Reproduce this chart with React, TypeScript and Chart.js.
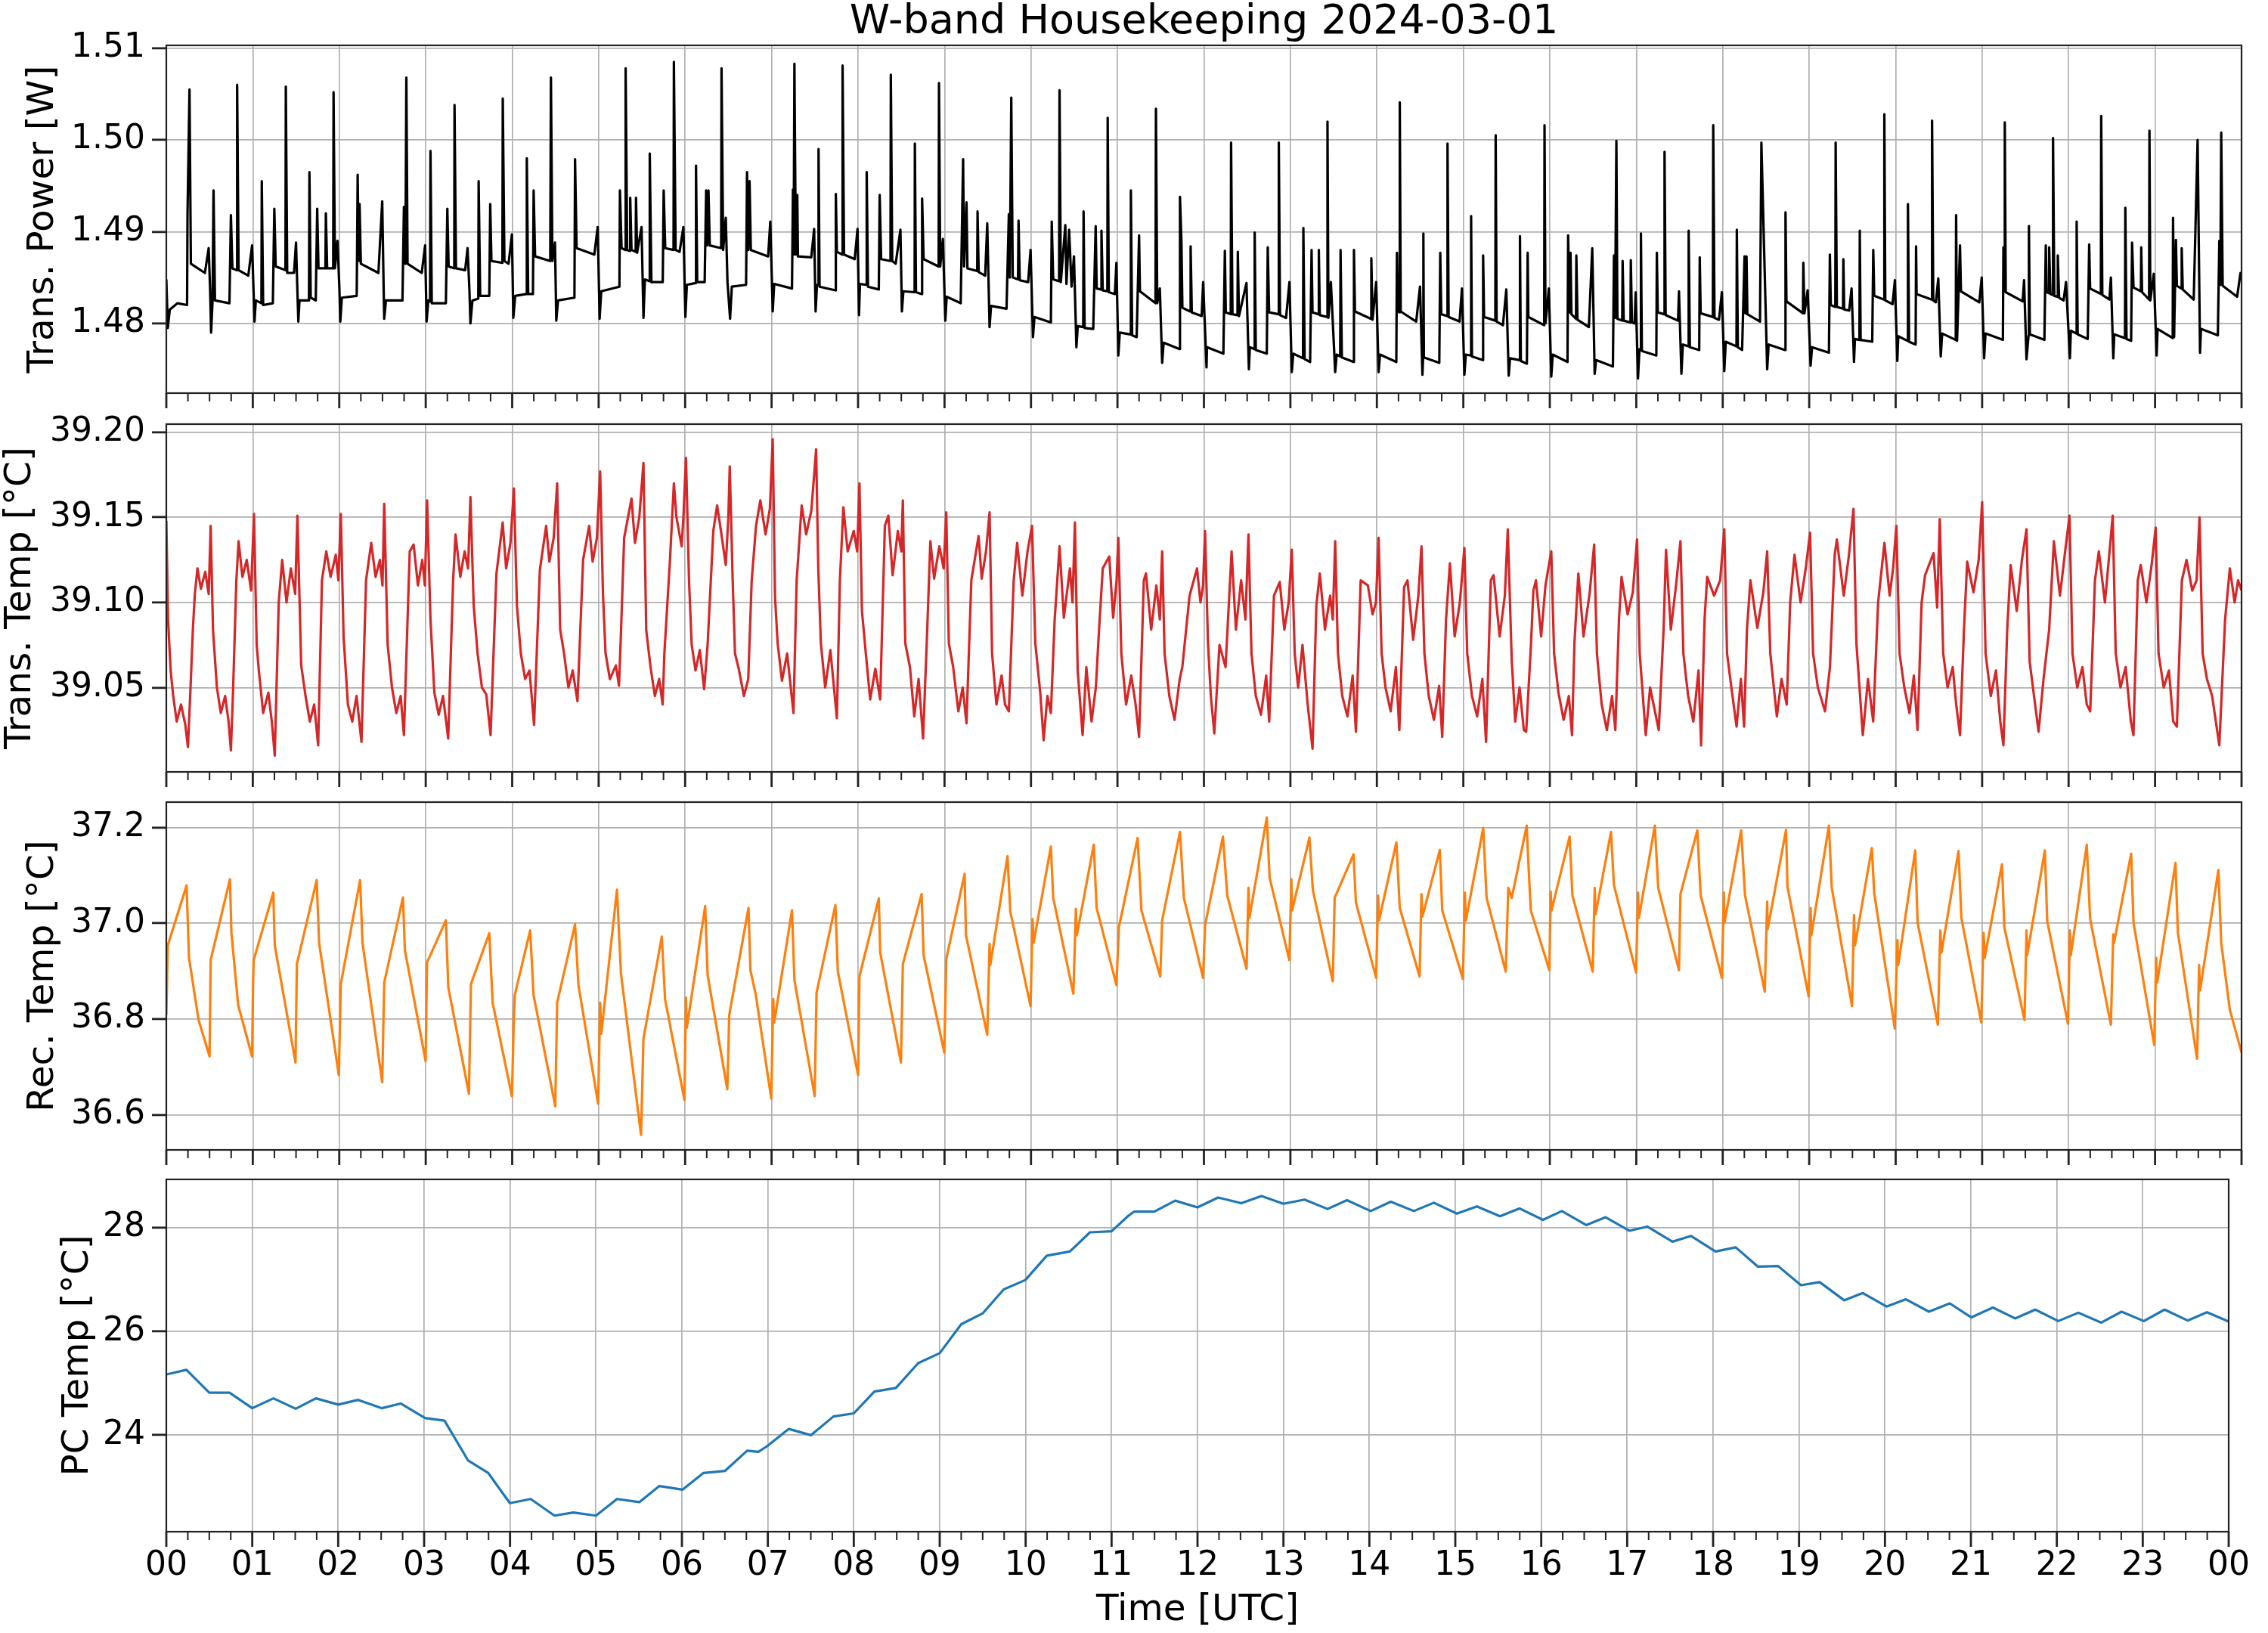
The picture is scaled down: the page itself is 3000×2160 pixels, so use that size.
import React, { useEffect, useRef } from "react";
import Chart from "chart.js/auto";

type Pt = [number, number];

const FONT = "'DejaVu Sans', sans-serif";
Chart.defaults.font.family = FONT;
Chart.defaults.color = "#000";

const TITLE = "W-band Housekeeping 2024-03-01";
const X_LABEL = "Time [UTC]";

// time in hours (UTC), value
const powerSeries: Pt[] = [
  [0, 1.4848], [0.017, 1.4795], [0.04, 1.4815], [0.13, 1.4822], [0.24, 1.482], [0.245, 1.4918], [0.268, 1.5055], [0.284, 1.4865], [0.446, 1.4855], [0.49, 1.4882],
  [0.507, 1.4835], [0.518, 1.479], [0.535, 1.4825], [0.546, 1.4945], [0.563, 1.4825], [0.73, 1.4822], [0.747, 1.4918], [0.764, 1.486], [0.814, 1.4858], [0.819, 1.506],
  [0.836, 1.4858], [0.948, 1.4852], [0.992, 1.4885], [1.009, 1.4835], [1.02, 1.4802], [1.035, 1.4825], [1.1, 1.4822], [1.104, 1.4955], [1.12, 1.482], [1.232, 1.4822],
  [1.249, 1.4925], [1.265, 1.4862], [1.378, 1.4858], [1.382, 1.5058], [1.398, 1.4855], [1.477, 1.4855], [1.5, 1.4888], [1.516, 1.4835], [1.527, 1.4802], [1.54, 1.4825],
  [1.65, 1.4825], [1.655, 1.4965], [1.67, 1.4828], [1.728, 1.4825], [1.745, 1.4925], [1.76, 1.486], [1.84, 1.486], [1.845, 1.492], [1.86, 1.486], [1.93, 1.486],
  [1.934, 1.5052], [1.95, 1.486], [1.979, 1.489], [2.001, 1.484], [2.012, 1.4802], [2.03, 1.4828], [2.202, 1.483], [2.213, 1.4962], [2.225, 1.4868], [2.235, 1.493],
  [2.25, 1.4865], [2.453, 1.4855], [2.497, 1.4933], [2.514, 1.4835], [2.52, 1.4805], [2.54, 1.4825], [2.731, 1.4825], [2.748, 1.4927], [2.765, 1.4865], [2.776, 1.5068],
  [2.79, 1.4865], [2.954, 1.4855], [2.993, 1.4885], [3.01, 1.4802], [3.03, 1.4825], [3.05, 1.4824], [3.055, 1.4988], [3.07, 1.4822], [3.233, 1.4822], [3.25, 1.4925],
  [3.265, 1.4862], [3.33, 1.486], [3.333, 1.5038], [3.35, 1.486], [3.456, 1.4858], [3.484, 1.4882], [3.506, 1.4835], [3.517, 1.48], [3.54, 1.4825], [3.608, 1.4827],
  [3.612, 1.4955], [3.63, 1.483], [3.735, 1.483], [3.746, 1.493], [3.76, 1.4868], [3.887, 1.4866], [3.891, 1.5045], [3.91, 1.4868], [3.958, 1.4865], [3.997, 1.4897],
  [4.013, 1.4806], [4.035, 1.483], [4.165, 1.4832], [4.169, 1.498], [4.185, 1.4832], [4.24, 1.4832], [4.248, 1.4945], [4.265, 1.4873], [4.44, 1.4868], [4.448, 1.5068],
  [4.465, 1.4868], [4.495, 1.4888], [4.51, 1.4803], [4.53, 1.4825], [4.72, 1.4828], [4.727, 1.4979], [4.745, 1.4882], [4.95, 1.4875], [4.989, 1.4905], [5.011, 1.4805],
  [5.03, 1.4835], [5.24, 1.484], [5.246, 1.4945], [5.265, 1.4882], [5.308, 1.488], [5.312, 1.5078], [5.33, 1.488], [5.362, 1.4879], [5.365, 1.4937], [5.38, 1.488],
  [5.428, 1.4878], [5.432, 1.4937], [5.445, 1.4877], [5.496, 1.4905], [5.518, 1.4806], [5.535, 1.4848], [5.588, 1.4846], [5.591, 1.4985], [5.61, 1.4845], [5.741, 1.4845],
  [5.752, 1.4945], [5.77, 1.4882], [5.866, 1.488], [5.87, 1.5085], [5.89, 1.488], [5.936, 1.4878], [5.98, 1.4905], [6.003, 1.4807], [6.02, 1.4842], [6.122, 1.4844],
  [6.126, 1.4972], [6.14, 1.4845], [6.226, 1.4845], [6.243, 1.4945], [6.255, 1.4885], [6.27, 1.4945], [6.285, 1.4885], [6.417, 1.4882], [6.421, 1.5078], [6.44, 1.488],
  [6.47, 1.4915], [6.49, 1.4845], [6.52, 1.4805], [6.54, 1.484], [6.705, 1.4842], [6.716, 1.4965], [6.73, 1.488], [6.745, 1.4955], [6.76, 1.488], [6.96, 1.4873],
  [6.985, 1.4911], [7.013, 1.4813], [7.03, 1.4843], [7.236, 1.4838], [7.247, 1.4946], [7.255, 1.4875], [7.264, 1.5083], [7.28, 1.4875], [7.297, 1.494], [7.305, 1.4873],
  [7.459, 1.4872], [7.492, 1.4903], [7.509, 1.4813], [7.525, 1.4842], [7.54, 1.4842], [7.543, 1.499], [7.555, 1.484], [7.738, 1.4836], [7.743, 1.4941], [7.755, 1.4878],
  [7.818, 1.4875], [7.821, 1.5081], [7.838, 1.4875], [7.961, 1.487], [7.994, 1.4903], [8.011, 1.4809], [8.022, 1.4843], [8.097, 1.4842], [8.1, 1.4965], [8.115, 1.484],
  [8.24, 1.4837], [8.25, 1.494], [8.267, 1.487], [8.375, 1.4868], [8.379, 1.5071], [8.395, 1.4868], [8.435, 1.4865], [8.49, 1.4902], [8.507, 1.4813], [8.524, 1.4835],
  [8.654, 1.4834], [8.657, 1.4996], [8.67, 1.4834], [8.735, 1.4832], [8.741, 1.4936], [8.758, 1.487], [8.932, 1.4862], [8.936, 1.5062], [8.95, 1.4862], [8.981, 1.4892],
  [9.009, 1.4803], [9.025, 1.4829], [9.187, 1.4822], [9.215, 1.4979], [9.226, 1.4862], [9.254, 1.4932], [9.265, 1.486], [9.378, 1.4857], [9.382, 1.4922], [9.395, 1.4856],
  [9.47, 1.4852], [9.494, 1.4909], [9.521, 1.4796], [9.538, 1.4819], [9.717, 1.4816], [9.744, 1.4919], [9.755, 1.485], [9.772, 1.5046], [9.789, 1.485], [9.85, 1.4848],
  [9.856, 1.4912], [9.87, 1.4847], [9.967, 1.4845], [9.995, 1.488], [10.023, 1.4785], [10.04, 1.4807], [10.23, 1.4801], [10.24, 1.4911], [10.257, 1.4848], [10.325, 1.4846],
  [10.33, 1.5054], [10.345, 1.4845], [10.397, 1.4907], [10.41, 1.4843], [10.441, 1.4902], [10.469, 1.484], [10.497, 1.4873], [10.525, 1.4774], [10.541, 1.4797], [10.604, 1.4796],
  [10.608, 1.4922], [10.62, 1.4795], [10.72, 1.4794], [10.748, 1.4906], [10.76, 1.4838], [10.81, 1.4837], [10.815, 1.4901], [10.83, 1.4836], [10.883, 1.4835], [10.887, 1.5024],
  [10.9, 1.4834], [10.97, 1.4832], [10.988, 1.4866], [11.01, 1.4765], [11.027, 1.479], [11.15, 1.4788], [11.155, 1.4945], [11.17, 1.4787], [11.222, 1.4785], [11.25, 1.4896],
  [11.26, 1.4835], [11.44, 1.4822], [11.445, 1.5034], [11.46, 1.4822], [11.49, 1.4838], [11.517, 1.4757], [11.534, 1.4779], [11.718, 1.4772], [11.723, 1.4938], [11.74, 1.4889],
  [11.751, 1.4817], [11.84, 1.4813], [11.846, 1.4884], [11.86, 1.4812], [11.974, 1.4808], [11.991, 1.4845], [12.03, 1.4752], [12.035, 1.4774], [12.225, 1.4767], [12.242, 1.4879],
  [12.253, 1.4812], [12.31, 1.481], [12.314, 1.4997], [12.33, 1.481], [12.388, 1.4809], [12.392, 1.4878], [12.405, 1.4808], [12.492, 1.4844], [12.52, 1.475], [12.531, 1.4774],
  [12.583, 1.4772], [12.587, 1.4899], [12.6, 1.4771], [12.727, 1.4767], [12.738, 1.4883], [12.754, 1.4812], [12.862, 1.481], [12.866, 1.4997], [12.88, 1.4809], [12.95, 1.4806],
  [12.989, 1.4845], [13.016, 1.4747], [13.033, 1.4767], [13.146, 1.4762], [13.15, 1.4904], [13.165, 1.4761], [13.228, 1.4758], [13.245, 1.488], [13.256, 1.4812], [13.325, 1.481],
  [13.329, 1.488], [13.34, 1.4809], [13.425, 1.4807], [13.429, 1.502], [13.44, 1.4806], [13.468, 1.4845], [13.518, 1.4747], [13.535, 1.4766], [13.576, 1.4764], [13.58, 1.488],
  [13.595, 1.4763], [13.73, 1.4758], [13.735, 1.488], [13.747, 1.4813], [13.932, 1.4805], [13.936, 1.4871], [13.95, 1.4804], [13.992, 1.4845], [14.02, 1.4747], [14.037, 1.4766],
  [14.225, 1.4758], [14.232, 1.4877], [14.245, 1.4813], [14.262, 1.4812], [14.265, 1.5041], [14.276, 1.4813], [14.455, 1.4802], [14.499, 1.484], [14.527, 1.4744], [14.535, 1.4763],
  [14.538, 1.4898], [14.544, 1.4763], [14.722, 1.4757], [14.733, 1.4877], [14.745, 1.481], [14.813, 1.4808], [14.817, 1.4996], [14.83, 1.4807], [14.956, 1.4802], [14.984, 1.4838],
  [15.012, 1.4744], [15.029, 1.4766], [15.086, 1.4765], [15.09, 1.4917], [15.1, 1.4764], [15.225, 1.476], [15.229, 1.4874], [15.24, 1.4807], [15.37, 1.4803], [15.374, 1.5005],
  [15.385, 1.4802], [15.458, 1.4798], [15.497, 1.4837], [15.525, 1.4743], [15.54, 1.4762], [15.651, 1.476], [15.655, 1.4895], [15.665, 1.4759], [15.735, 1.4756], [15.744, 1.4877],
  [15.752, 1.4807], [15.935, 1.4798], [15.939, 1.5016], [15.95, 1.48], [15.989, 1.4838], [16.017, 1.4742], [16.034, 1.4766], [16.205, 1.4758], [16.212, 1.4896], [16.229, 1.4812],
  [16.24, 1.4877], [16.25, 1.481], [16.303, 1.4805], [16.307, 1.4874], [16.32, 1.4804], [16.452, 1.4796], [16.491, 1.4882], [16.519, 1.4745], [16.535, 1.476], [16.73, 1.4753],
  [16.742, 1.4874], [16.755, 1.4806], [16.77, 1.4999], [16.782, 1.4805], [16.838, 1.4803], [16.842, 1.4868], [16.855, 1.4803], [16.933, 1.4801], [16.937, 1.4869], [16.95, 1.4801],
  [16.981, 1.48], [16.993, 1.4834], [17.02, 1.474], [17.037, 1.4772], [17.05, 1.4771], [17.054, 1.4898], [17.065, 1.477], [17.232, 1.4765], [17.238, 1.4877], [17.249, 1.4812],
  [17.323, 1.481], [17.327, 1.4987], [17.34, 1.4809], [17.483, 1.4803], [17.494, 1.4835], [17.522, 1.4745], [17.539, 1.4777], [17.602, 1.4775], [17.606, 1.4901], [17.62, 1.4774],
  [17.728, 1.4771], [17.734, 1.4872], [17.745, 1.4811], [17.886, 1.4807], [17.89, 1.5016], [17.905, 1.4806], [17.957, 1.4804], [17.99, 1.4834], [18.018, 1.4748], [18.035, 1.478],
  [18.159, 1.4775], [18.163, 1.4902], [18.175, 1.4774], [18.224, 1.4771], [18.252, 1.4873], [18.263, 1.4811], [18.275, 1.4873], [18.285, 1.481], [18.431, 1.4802], [18.447, 1.4997],
  [18.514, 1.475], [18.531, 1.4777], [18.72, 1.4771], [18.726, 1.4921], [18.737, 1.4824], [18.928, 1.4811], [18.932, 1.4866], [18.945, 1.4811], [18.982, 1.4836], [19.016, 1.4754],
  [19.033, 1.4774], [19.228, 1.4768], [19.239, 1.4875], [19.25, 1.482], [19.302, 1.4818], [19.306, 1.4997], [19.32, 1.4818], [19.391, 1.4816], [19.395, 1.487], [19.405, 1.4815],
  [19.462, 1.4814], [19.49, 1.4838], [19.518, 1.4758], [19.529, 1.4783], [19.581, 1.4782], [19.585, 1.4901], [19.595, 1.4782], [19.729, 1.478], [19.741, 1.488], [19.752, 1.483],
  [19.865, 1.4826], [19.869, 1.5028], [19.88, 1.4825], [19.964, 1.4821], [19.991, 1.4847], [20.019, 1.4759], [20.03, 1.4786], [20.138, 1.4781], [20.142, 1.493], [20.155, 1.478],
  [20.231, 1.4777], [20.236, 1.4884], [20.242, 1.4832], [20.417, 1.4826], [20.421, 1.5021], [20.435, 1.4825], [20.465, 1.4823], [20.493, 1.4849], [20.521, 1.4764], [20.538, 1.4789],
  [20.695, 1.4782], [20.699, 1.4918], [20.71, 1.4781], [20.744, 1.4885], [20.755, 1.4835], [20.967, 1.4823], [20.995, 1.485], [21.023, 1.4762], [21.039, 1.4789], [21.24, 1.4782],
  [21.246, 1.4883], [21.255, 1.4835], [21.262, 1.5019], [21.273, 1.4834], [21.469, 1.4824], [21.485, 1.4847], [21.513, 1.4761], [21.537, 1.4787], [21.541, 1.4906], [21.552, 1.4788],
  [21.72, 1.4782], [21.736, 1.4885], [21.747, 1.4834], [21.771, 1.4833], [21.775, 1.4883], [21.79, 1.4832], [21.816, 1.4831], [21.82, 1.5002], [21.835, 1.483], [21.871, 1.4829],
  [21.875, 1.4874], [21.89, 1.4828], [21.942, 1.4825], [21.97, 1.4845], [22.015, 1.4762], [22.026, 1.4792], [22.089, 1.4789], [22.093, 1.4911], [22.105, 1.4788], [22.221, 1.4783],
  [22.238, 1.4886], [22.249, 1.4838], [22.373, 1.4832], [22.377, 1.5026], [22.39, 1.4831], [22.472, 1.4826], [22.489, 1.485], [22.517, 1.4762], [22.528, 1.4788], [22.652, 1.4784],
  [22.656, 1.4926], [22.67, 1.4783], [22.723, 1.4781], [22.734, 1.4888], [22.751, 1.4839], [22.836, 1.4835], [22.84, 1.4883], [22.85, 1.4834], [22.931, 1.4826], [22.935, 1.501],
  [22.945, 1.4825], [22.985, 1.4854], [23.018, 1.4765], [23.029, 1.4794], [23.204, 1.4784], [23.208, 1.4915], [23.22, 1.4785], [23.241, 1.4891], [23.252, 1.4841], [23.304, 1.4838],
  [23.308, 1.4882], [23.32, 1.4837], [23.447, 1.4826], [23.492, 1.5], [23.52, 1.4768], [23.531, 1.4794], [23.726, 1.4787], [23.743, 1.489], [23.755, 1.4842], [23.765, 1.5008],
  [23.782, 1.4841], [23.949, 1.4829], [23.988, 1.4855], [24, 1.4855],
];

const transTempSeries: Pt[] = [
  [0, 39.148], [0.02, 39.09], [0.05, 39.06], [0.08, 39.045], [0.12, 39.03], [0.17, 39.04], [0.22, 39.028], [0.25, 39.015], [0.28, 39.05], [0.307, 39.084],
  [0.33, 39.105], [0.36, 39.12], [0.4, 39.108], [0.45, 39.118], [0.49, 39.105], [0.513, 39.145],
  [0.54, 39.084], [0.585, 39.05], [0.63, 39.035], [0.68, 39.045], [0.72, 39.03], [0.747, 39.013], [0.77, 39.045], [0.81, 39.113], [0.836, 39.136], [0.88, 39.115], [0.93, 39.125], [0.98, 39.107], [1.014, 39.152],
  [1.045, 39.075], [1.07, 39.06], [1.12, 39.035], [1.18, 39.047], [1.22, 39.03], [1.254, 39.01], [1.3, 39.1], [1.34, 39.125], [1.39, 39.1], [1.44, 39.12], [1.49, 39.105], [1.516, 39.151],
  [1.56, 39.063], [1.61, 39.045], [1.66, 39.03], [1.71, 39.04], [1.756, 39.016], [1.8, 39.113], [1.85, 39.13], [1.9, 39.115], [1.96, 39.128], [1.99, 39.113], [2.018, 39.152],
  [2.05, 39.08], [2.1, 39.04], [2.15, 39.03], [2.2, 39.045], [2.257, 39.018], [2.31, 39.113], [2.37, 39.135], [2.42, 39.115], [2.47, 39.125], [2.5, 39.11], [2.52, 39.158],
  [2.56, 39.075], [2.61, 39.05], [2.66, 39.035], [2.71, 39.045], [2.748, 39.022], [2.815, 39.13], [2.86, 39.134], [2.91, 39.11], [2.96, 39.125], [2.99, 39.11], [3.016, 39.16],
  [3.055, 39.09], [3.1, 39.047], [3.15, 39.034], [3.2, 39.045], [3.26, 39.02], [3.317, 39.113], [3.345, 39.14], [3.4, 39.115], [3.45, 39.13], [3.49, 39.12], [3.517, 39.162],
  [3.555, 39.098], [3.6, 39.07], [3.65, 39.05], [3.7, 39.046], [3.75, 39.022], [3.818, 39.117], [3.89, 39.147], [3.93, 39.12], [3.98, 39.135], [4.02, 39.167],
  [4.055, 39.098], [4.1, 39.07], [4.15, 39.055], [4.2, 39.06], [4.253, 39.028], [4.32, 39.119], [4.393, 39.145], [4.43, 39.124], [4.48, 39.138], [4.52, 39.17],
  [4.555, 39.084], [4.6, 39.07], [4.65, 39.05], [4.7, 39.06], [4.755, 39.042], [4.82, 39.125], [4.89, 39.145], [4.93, 39.124], [4.98, 39.138], [5.017, 39.177],
  [5.05, 39.105], [5.08, 39.07], [5.13, 39.055], [5.2, 39.063], [5.235, 39.051], [5.256, 39.079], [5.295, 39.138], [5.38, 39.161], [5.42, 39.135], [5.47, 39.15], [5.518, 39.182],
  [5.55, 39.084], [5.6, 39.062], [5.65, 39.045], [5.7, 39.055], [5.74, 39.04], [5.76, 39.07], [5.825, 39.125], [5.87, 39.17], [5.9, 39.15], [5.96, 39.133], [5.98, 39.15], [6.01, 39.185],
  [6.045, 39.113], [6.076, 39.075], [6.12, 39.06], [6.17, 39.072], [6.22, 39.049], [6.26, 39.075], [6.326, 39.142], [6.37, 39.157], [6.42, 39.14], [6.47, 39.122], [6.5, 39.15], [6.516, 39.18],
  [6.55, 39.113], [6.577, 39.07], [6.62, 39.061], [6.68, 39.045], [6.73, 39.055], [6.77, 39.113], [6.82, 39.145], [6.87, 39.16], [6.93, 39.14], [6.98, 39.155], [7.013, 39.196],
  [7.04, 39.103], [7.07, 39.076], [7.12, 39.054], [7.18, 39.07], [7.253, 39.035], [7.29, 39.113], [7.348, 39.157], [7.4, 39.14], [7.46, 39.154], [7.515, 39.19],
  [7.54, 39.12], [7.57, 39.076], [7.62, 39.05], [7.68, 39.072], [7.755, 39.032], [7.79, 39.113], [7.83, 39.156], [7.88, 39.13], [7.95, 39.142], [7.99, 39.13], [8.016, 39.17],
  [8.045, 39.095], [8.09, 39.07], [8.14, 39.043], [8.2, 39.061], [8.256, 39.043], [8.31, 39.145], [8.35, 39.151], [8.4, 39.116], [8.46, 39.142], [8.5, 39.13], [8.518, 39.16],
  [8.546, 39.076], [8.6, 39.062], [8.65, 39.033], [8.7, 39.055], [8.752, 39.02], [8.8, 39.084], [8.836, 39.136], [8.88, 39.114], [8.94, 39.133], [8.99, 39.12], [9.02, 39.153],
  [9.05, 39.076], [9.1, 39.062], [9.16, 39.036], [9.21, 39.05], [9.254, 39.029], [9.31, 39.113], [9.394, 39.139], [9.43, 39.114], [9.48, 39.13], [9.521, 39.153],
  [9.55, 39.07], [9.6, 39.04], [9.66, 39.057], [9.7, 39.04], [9.744, 39.036], [9.8, 39.113], [9.84, 39.135], [9.9, 39.104], [9.96, 39.13], [10.012, 39.145],
  [10.05, 39.076], [10.107, 39.047], [10.146, 39.019], [10.19, 39.045], [10.23, 39.035], [10.274, 39.09], [10.33, 39.133], [10.38, 39.091], [10.45, 39.12], [10.48, 39.1], [10.508, 39.147],
  [10.54, 39.06], [10.597, 39.022], [10.64, 39.062], [10.7, 39.03], [10.75, 39.05], [10.787, 39.084], [10.83, 39.12], [10.905, 39.127], [10.95, 39.091], [10.99, 39.113], [11.01, 39.138],
  [11.045, 39.07], [11.1, 39.04], [11.16, 39.057], [11.21, 39.04], [11.25, 39.021], [11.305, 39.113], [11.33, 39.117], [11.39, 39.084], [11.45, 39.11], [11.49, 39.09], [11.517, 39.13],
  [11.545, 39.07], [11.6, 39.045], [11.66, 39.031], [11.72, 39.055], [11.75, 39.062], [11.834, 39.104], [11.92, 39.12], [11.96, 39.1], [11.99, 39.11], [12.013, 39.142],
  [12.047, 39.076], [12.08, 39.045], [12.12, 39.023], [12.18, 39.075], [12.25, 39.062], [12.32, 39.13], [12.37, 39.084], [12.43, 39.113], [12.48, 39.09], [12.515, 39.14],
  [12.55, 39.07], [12.6, 39.045], [12.66, 39.034], [12.72, 39.057], [12.755, 39.03], [12.81, 39.104], [12.877, 39.112], [12.93, 39.084], [12.98, 39.1], [13.016, 39.131],
  [13.05, 39.07], [13.09, 39.05], [13.14, 39.075], [13.2, 39.04], [13.256, 39.014], [13.3, 39.098], [13.34, 39.117], [13.4, 39.084], [13.46, 39.104], [13.49, 39.09], [13.518, 39.136],
  [13.55, 39.07], [13.6, 39.045], [13.66, 39.033], [13.72, 39.057], [13.758, 39.024], [13.813, 39.113], [13.896, 39.11], [13.95, 39.093], [13.99, 39.1], [14.02, 39.138],
  [14.055, 39.07], [14.1, 39.05], [14.16, 39.036], [14.22, 39.062], [14.26, 39.025], [14.315, 39.109], [14.354, 39.113], [14.42, 39.078], [14.48, 39.104], [14.516, 39.133],
  [14.55, 39.07], [14.6, 39.045], [14.66, 39.031], [14.72, 39.051], [14.756, 39.021], [14.8, 39.09], [14.845, 39.123], [14.9, 39.08], [14.96, 39.1], [15.012, 39.132],
  [15.045, 39.07], [15.1, 39.045], [15.16, 39.033], [15.22, 39.055], [15.263, 39.018], [15.318, 39.113], [15.35, 39.116], [15.42, 39.08], [15.48, 39.104], [15.514, 39.143],
  [15.56, 39.066], [15.6, 39.03], [15.65, 39.05], [15.7, 39.025], [15.727, 39.024], [15.783, 39.076], [15.81, 39.107], [15.84, 39.113], [15.9, 39.08], [15.95, 39.11], [16.017, 39.13],
  [16.05, 39.07], [16.1, 39.047], [16.16, 39.031], [16.22, 39.045], [16.257, 39.022], [16.285, 39.076], [16.33, 39.117], [16.39, 39.08], [16.46, 39.105], [16.513, 39.134],
  [16.545, 39.07], [16.6, 39.04], [16.66, 39.025], [16.72, 39.045], [16.758, 39.025], [16.8, 39.09], [16.83, 39.115], [16.9, 39.093], [16.96, 39.106], [17.009, 39.137],
  [17.04, 39.07], [17.11, 39.022], [17.16, 39.05], [17.22, 39.035], [17.26, 39.025], [17.316, 39.084], [17.344, 39.131], [17.4, 39.084], [17.46, 39.11], [17.511, 39.136],
  [17.545, 39.07], [17.6, 39.045], [17.66, 39.03], [17.72, 39.06], [17.75, 39.016], [17.79, 39.09], [17.82, 39.115], [17.9, 39.104], [17.97, 39.113], [18.018, 39.143],
  [18.05, 39.07], [18.1, 39.05], [18.16, 39.027], [18.21, 39.055], [18.247, 39.027], [18.28, 39.084], [18.32, 39.113], [18.4, 39.085], [18.47, 39.106], [18.514, 39.13],
  [18.55, 39.07], [18.626, 39.033], [18.68, 39.055], [18.74, 39.04], [18.78, 39.1], [18.83, 39.128], [18.9, 39.1], [18.96, 39.12], [19.01, 39.141],
  [19.045, 39.07], [19.1, 39.05], [19.183, 39.036], [19.24, 39.062], [19.295, 39.128], [19.32, 39.137], [19.4, 39.104], [19.46, 39.128], [19.512, 39.155],
  [19.546, 39.076], [19.62, 39.022], [19.68, 39.055], [19.74, 39.03], [19.797, 39.1], [19.87, 39.135], [19.93, 39.104], [19.97, 39.12], [20.008, 39.145],
  [20.045, 39.07], [20.1, 39.05], [20.16, 39.035], [20.21, 39.057], [20.253, 39.025], [20.3, 39.1], [20.34, 39.116], [20.438, 39.129], [20.48, 39.097], [20.51, 39.149],
  [20.55, 39.07], [20.6, 39.05], [20.66, 39.062], [20.7, 39.04], [20.744, 39.022], [20.79, 39.084], [20.827, 39.124], [20.9, 39.106], [20.96, 39.125], [21.0, 39.159],
  [21.04, 39.07], [21.1, 39.045], [21.16, 39.06], [21.21, 39.03], [21.246, 39.016], [21.29, 39.084], [21.33, 39.122], [21.4, 39.095], [21.46, 39.125], [21.513, 39.143],
  [21.55, 39.065], [21.6, 39.045], [21.653, 39.024], [21.71, 39.055], [21.775, 39.084], [21.83, 39.136], [21.9, 39.104], [21.96, 39.13], [22.01, 39.151],
  [22.045, 39.07], [22.1, 39.05], [22.16, 39.062], [22.21, 39.04], [22.25, 39.036], [22.305, 39.113], [22.35, 39.13], [22.42, 39.1], [22.47, 39.128], [22.51, 39.151],
  [22.545, 39.07], [22.6, 39.05], [22.66, 39.062], [22.72, 39.03], [22.75, 39.022], [22.8, 39.113], [22.834, 39.122], [22.9, 39.1], [22.96, 39.122], [23.007, 39.144],
  [23.04, 39.07], [23.1, 39.05], [23.16, 39.06], [23.21, 39.03], [23.252, 39.027], [23.31, 39.113], [23.364, 39.125], [23.43, 39.107], [23.48, 39.113], [23.514, 39.15],
  [23.55, 39.07], [23.6, 39.055], [23.66, 39.045], [23.7, 39.031], [23.743, 39.016], [23.81, 39.09], [23.865, 39.12], [23.92, 39.1], [23.96, 39.113], [24, 39.107],
];

const recTempSeries: Pt[] = [
  [0, 36.808], [0.017, 36.954], [0.234, 37.079], [0.262, 36.928], [0.373, 36.798], [0.5, 36.722],
  [0.513, 36.923], [0.736, 37.092], [0.753, 36.98], [0.831, 36.829], [0.992, 36.722],
  [1.003, 36.871], [1.01, 36.923], [1.237, 37.064], [1.254, 36.954], [1.494, 36.709],
  [1.51, 36.915], [1.739, 37.09], [1.767, 36.959], [1.995, 36.683],
  [2.018, 36.873], [2.241, 37.09], [2.269, 36.959], [2.497, 36.668],
  [2.52, 36.876], [2.737, 37.054], [2.759, 36.944], [2.999, 36.712],
  [3.015, 36.918], [3.233, 37.006], [3.261, 36.866], [3.5, 36.644],
  [3.523, 36.873], [3.735, 36.979], [3.774, 36.834], [3.997, 36.639],
  [4.019, 36.801], [4.03, 36.85], [4.208, 36.985], [4.247, 36.85], [4.498, 36.618],
  [4.52, 36.834], [4.727, 36.998], [4.766, 36.871], [4.994, 36.623],
  [5.017, 36.834], [5.03, 36.769], [5.212, 37.07], [5.257, 36.897], [5.49, 36.558],
  [5.518, 36.759], [5.73, 36.972], [5.769, 36.84], [5.992, 36.631],
  [6.009, 36.845], [6.02, 36.782], [6.232, 37.036], [6.26, 36.892], [6.488, 36.653],
  [6.51, 36.808], [6.733, 37.032], [6.755, 36.902], [6.818, 36.85], [6.996, 36.634],
  [7.019, 36.842], [7.03, 36.793], [7.236, 37.027], [7.264, 36.881], [7.498, 36.639],
  [7.52, 36.855], [7.738, 37.038], [7.766, 36.899], [8.0, 36.683],
  [8.016, 36.889], [8.24, 37.052], [8.256, 36.939], [8.496, 36.709],
  [8.518, 36.915], [8.735, 37.061], [8.758, 36.933], [8.997, 36.73],
  [9.02, 36.925], [9.232, 37.103], [9.248, 36.975], [9.494, 36.767],
  [9.521, 36.957], [9.53, 36.913], [9.728, 37.14], [9.761, 37.024], [9.995, 36.827],
  [10.018, 37.009], [10.03, 36.959], [10.23, 37.16], [10.257, 37.053], [10.49, 36.853],
  [10.519, 37.03], [10.53, 36.975], [10.726, 37.164], [10.759, 37.032], [10.988, 36.871],
  [11.016, 36.991], [11.233, 37.178], [11.277, 37.027], [11.495, 36.889],
  [11.517, 37.006], [11.723, 37.191], [11.768, 37.053], [11.99, 36.886],
  [12.013, 36.996], [12.22, 37.181], [12.27, 37.058], [12.493, 36.905],
  [12.515, 37.074], [12.525, 37.011], [12.727, 37.221], [12.76, 37.095], [12.988, 36.923],
  [13.011, 37.092], [13.02, 37.027], [13.22, 37.179], [13.26, 37.069], [13.49, 36.879],
  [13.512, 37.053], [13.73, 37.144], [13.758, 37.043], [13.992, 36.886],
  [14.014, 37.058], [14.025, 37.006], [14.226, 37.169], [14.265, 37.032], [14.494, 36.889],
  [14.516, 37.061], [14.527, 37.014], [14.728, 37.153], [14.756, 37.027], [14.995, 36.884],
  [15.018, 37.064], [15.03, 37.006], [15.23, 37.199], [15.269, 37.053], [15.49, 36.899],
  [15.52, 37.074], [15.56, 37.053], [15.733, 37.204], [15.755, 37.116], [15.78, 37.027], [15.995, 36.902],
  [16.01, 37.066], [16.02, 37.027], [16.229, 37.181], [16.262, 37.058], [16.496, 36.899],
  [16.519, 37.074], [16.53, 37.019], [16.708, 37.191], [16.742, 37.079], [16.998, 36.897],
  [17.02, 37.064], [17.03, 37.011], [17.215, 37.204], [17.254, 37.074], [17.494, 36.902],
  [17.511, 37.061], [17.706, 37.194], [17.745, 37.058], [17.99, 36.886],
  [18.013, 37.064], [18.02, 37.001], [18.213, 37.194], [18.258, 37.058], [18.486, 36.857],
  [18.514, 37.045], [18.52, 36.988], [18.732, 37.195], [18.749, 37.076], [18.994, 36.847],
  [19.016, 37.032], [19.025, 36.975], [19.228, 37.204], [19.261, 37.074], [19.495, 36.827],
  [19.518, 37.017], [19.53, 36.954], [19.724, 37.157], [19.752, 37.063], [19.99, 36.78],
  [20.02, 36.965], [20.03, 36.913], [20.226, 37.152], [20.254, 37.001], [20.488, 36.788],
  [20.516, 36.985], [20.53, 36.939], [20.727, 37.151], [20.76, 37.011], [20.99, 36.793],
  [21.017, 36.98], [21.03, 36.928], [21.229, 37.123], [21.257, 36.991], [21.49, 36.798],
  [21.513, 36.985], [21.52, 36.933], [21.725, 37.152], [21.753, 37.004], [21.993, 36.79],
  [22.015, 36.985], [22.025, 36.933], [22.21, 37.164], [22.249, 37.009], [22.489, 36.788],
  [22.516, 36.977], [22.525, 36.959], [22.723, 37.145], [22.751, 37.001], [22.99, 36.746],
  [23.013, 36.928], [23.025, 36.876], [23.236, 37.126], [23.264, 36.98], [23.486, 36.717],
  [23.509, 36.913], [23.52, 36.86], [23.732, 37.111], [23.765, 36.959], [23.865, 36.819], [24, 36.73],
];

const pcTempSeries: Pt[] = [
  [0, 25.17], [0.234, 25.26], [0.5, 24.82], [0.736, 24.82], [1.0, 24.52], [1.246, 24.71], [1.506, 24.51], [1.74, 24.71], [2.0, 24.59], [2.233, 24.68],
  [2.51, 24.52], [2.727, 24.61], [3.01, 24.33], [3.237, 24.28], [3.513, 23.51], [3.747, 23.27], [3.998, 22.69], [4.24, 22.77], [4.517, 22.45], [4.735, 22.51],
  [5.0, 22.45], [5.245, 22.77], [5.504, 22.71], [5.738, 23.02], [6.006, 22.95], [6.249, 23.27], [6.5, 23.31], [6.759, 23.7], [6.89, 23.68], [6.993, 23.79],
  [7.244, 24.12], [7.503, 24.0], [7.763, 24.36], [8.0, 24.42], [8.24, 24.84], [8.49, 24.91], [8.75, 25.39], [9.0, 25.58], [9.251, 26.14], [9.502, 26.35],
  [9.745, 26.81], [9.996, 26.99], [10.247, 27.46], [10.515, 27.54], [10.749, 27.91], [11.0, 27.93], [11.197, 28.23], [11.264, 28.31], [11.498, 28.31], [11.74, 28.52],
  [12.0, 28.39], [12.24, 28.58], [12.51, 28.47], [12.744, 28.61], [13.0, 28.46], [13.246, 28.54], [13.513, 28.36], [13.739, 28.53], [14.015, 28.32], [14.249, 28.5],
  [14.517, 28.32], [14.75, 28.48], [15.018, 28.27], [15.251, 28.41], [15.52, 28.22], [15.746, 28.37], [16.02, 28.15], [16.24, 28.32], [16.523, 28.05], [16.749, 28.2],
  [17.025, 27.94], [17.234, 28.02], [17.527, 27.73], [17.744, 27.84], [18.028, 27.54], [18.263, 27.62], [18.52, 27.25], [18.756, 27.26], [19.023, 26.89], [19.24, 26.95],
  [19.525, 26.6], [19.742, 26.74], [20.018, 26.48], [20.244, 26.62], [20.512, 26.38], [20.754, 26.54], [21.005, 26.27], [21.256, 26.46], [21.515, 26.25], [21.749, 26.42],
  [22.017, 26.2], [22.251, 26.36], [22.518, 26.17], [22.753, 26.38], [23.012, 26.2], [23.254, 26.42], [23.522, 26.21], [23.747, 26.37], [24, 26.19],
];

const powerTicks = [1.48, 1.49, 1.5, 1.51];
const transTempTicks = [39.05, 39.1, 39.15, 39.2];
const recTempTicks = [36.6, 36.8, 37.0, 37.2];
const pcTempTicks = [24, 26, 28];

// layout (px)
const W = 3000;
const PLOT_LEFT = 220;
const PLOT_RIGHT_PAD = 35;
const PLOT_H = 466;
const TOP_PAD = 40;
const MINOR_STEP = 0.25;

type PanelCfg = {
  data: Pt[];
  ticks: number[];
  decimals: number;
  label: string;
  color: string;
  min: number;
  max: number;
  top: number;
  labelPad: number;
  withTitle: boolean;
  withXAxis: boolean;
};

const PANELS: PanelCfg[] = [
  { data: powerSeries, ticks: powerTicks, decimals: 2, label: "Trans. Power [W]", color: "#000000", min: 1.4724, max: 1.5103, top: 60, labelPad: 33, withTitle: true, withXAxis: false },
  { data: transTempSeries, ticks: transTempTicks, decimals: 2, label: "Trans. Temp [°C]", color: "#d62728", min: 39.0004, max: 39.2048, top: 561, labelPad: 3, withTitle: false, withXAxis: false },
  { data: recTempSeries, ticks: recTempTicks, decimals: 1, label: "Rec. Temp [°C]", color: "#ff7f0e", min: 36.5266, max: 37.253, top: 1061, labelPad: 33, withTitle: false, withXAxis: false },
  { data: pcTempSeries, ticks: pcTempTicks, decimals: 0, label: "PC Temp [°C]", color: "#1f77b4", min: 22.14, max: 28.93, top: 1560, labelPad: 79, withTitle: false, withXAxis: true },
];

const frameAndTicks = {
  id: "frameAndTicks",
  afterDraw(chart: any) {
    const { ctx, chartArea: a, scales } = chart;
    const xs = scales.x;
    ctx.save();
    ctx.strokeStyle = "#222";
    const n = Math.round(24 / MINOR_STEP);
    for (let i = 0; i <= n; i++) {
      const px = xs.getPixelForValue(i * MINOR_STEP);
      const major = i % 4 === 0;
      ctx.lineWidth = major ? 2.8 : 2;
      ctx.beginPath();
      ctx.moveTo(px, a.bottom);
      ctx.lineTo(px, a.bottom + (major ? 20 : 11));
      ctx.stroke();
    }
    ctx.lineWidth = 2.2;
    ctx.strokeRect(a.left, a.top, a.right - a.left, a.bottom - a.top);
    ctx.restore();
  },
};

function Panel({ cfg }: { cfg: PanelCfg }) {
  const ref = useRef<HTMLCanvasElement>(null);
  const axisH = cfg.withXAxis ? 2160 - (cfg.top + PLOT_H) : 25;
  const padTop = cfg.withTitle ? cfg.top : TOP_PAD;
  const canvasTop = cfg.top - padTop;
  const canvasH = padTop + PLOT_H + axisH;

  useEffect(() => {
    if (!ref.current) return;
    const chart = new Chart(ref.current, {
      type: "line",
      data: {
        datasets: [
          {
            data: cfg.data.map(([x, y]) => ({ x, y })),
            borderColor: cfg.color,
            borderWidth: 3.2,
            pointRadius: 0,
            tension: 0,
            fill: false,
            borderJoinStyle: "round",
          },
        ],
      },
      options: {
        animation: false,
        responsive: false,
        devicePixelRatio: 1,
        events: [],
        layout: { padding: { left: 0, right: PLOT_RIGHT_PAD, top: cfg.withTitle ? 0 : TOP_PAD, bottom: 0 } },
        plugins: {
          legend: { display: false },
          tooltip: { enabled: false },
          title: {
            display: cfg.withTitle,
            text: TITLE,
            fullSize: false,
            color: "#000",
            font: { family: FONT, size: 54, weight: "normal", lineHeight: 1 },
            padding: { top: 3, bottom: 3 },
          },
        },
        scales: {
          x: {
            type: "linear",
            min: 0,
            max: 24,
            afterFit: (s: any) => {
              s.height = axisH;
            },
            ticks: {
              display: cfg.withXAxis,
              stepSize: 1,
              autoSkip: false,
              maxRotation: 0,
              padding: 24,
              color: "#000",
              font: { family: FONT, size: 44, lineHeight: 1 },
              callback: (v: any) => String(Number(v) % 24).padStart(2, "0"),
            },
            grid: { color: "#b0b0b0", lineWidth: 1.7, drawTicks: false },
            border: { display: false },
            title: {
              display: cfg.withXAxis,
              text: X_LABEL,
              color: "#000",
              font: { family: FONT, size: 48.5, lineHeight: 1 },
              padding: { top: 0, bottom: 5 },
            },
          },
          y: {
            type: "linear",
            min: cfg.min,
            max: cfg.max,
            afterFit: (s: any) => {
              s.width = PLOT_LEFT;
            },
            afterBuildTicks: (s: any) => {
              s.ticks = cfg.ticks.map((v) => ({ value: v }));
            },
            ticks: {
              color: "#000",
              padding: 9,
              font: { family: FONT, size: 44, lineHeight: 1 },
              callback: (v: any) => Number(v).toFixed(cfg.decimals),
            },
            grid: { color: "#b0b0b0", lineWidth: 1.7, tickColor: "#222", tickLength: 19, tickWidth: 2.8 },
            border: { display: false },
            title: {
              display: true,
              text: cfg.label,
              color: "#000",
              font: { family: FONT, size: 48.5, lineHeight: 1 },
              padding: { top: cfg.labelPad, bottom: 0 },
            },
          },
        },
      } as any,
      plugins: [frameAndTicks],
    });
    return () => chart.destroy();
  }, []);

  return (
    <canvas
      ref={ref}
      width={W}
      height={canvasH}
      style={{ position: "absolute", left: 0, top: canvasTop, width: W, height: canvasH }}
    />
  );
}

export default function App() {
  return (
    <div style={{ position: "absolute", left: 0, top: 0, width: W, height: 2160, background: "#fff", overflow: "hidden" }}>
      {PANELS.map((p, i) => (
        <Panel key={i} cfg={p} />
      ))}
    </div>
  );
}
